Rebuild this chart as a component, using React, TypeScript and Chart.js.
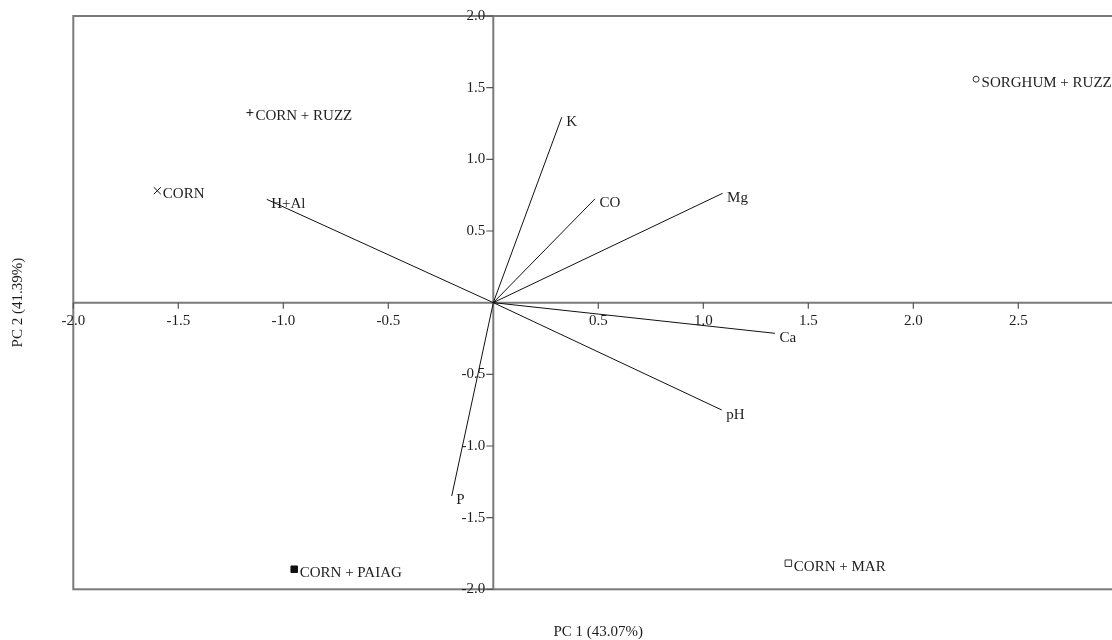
import React, { useEffect, useRef } from "react";
import { Chart, registerables } from "chart.js";

Chart.register(...registerables);

// Variable loadings (biplot vectors)
const vectorNames = ["K", "CO", "Mg", "H+Al", "Ca", "pH", "P"];
const vectorX = [0.326, 0.484, 1.092, -1.079, 1.341, 1.088, -0.198];
const vectorY = [1.294, 0.724, 0.763, 0.721, -0.214, -0.749, -1.349];

// Treatment scores
const treatmentNames = ["CORN", "CORN + RUZZ", "SORGHUM + RUZZ", "CORN + PAIAG", "CORN + MAR"];
const treatmentX = [-1.6, -1.159, 2.299, -0.948, 1.405];
const treatmentY = [0.781, 1.326, 1.559, -1.86, -1.818];
const treatmentMarkers = ["crossRot", "cross", "circle", "rect", "rect"];

// Axis ticks
const xTicks = [-2, -1.5, -1, -0.5, 0.5, 1, 1.5, 2, 2.5, 3];
const xTickLabels = ["-2.0", "-1.5", "-1.0", "-0.5", "0.5", "1.0", "1.5", "2.0", "2.5", "3.0"];
const yTicks = [2, 1.5, 1, 0.5, -0.5, -1, -1.5, -2];
const yTickLabels = ["2.0", "1.5", "1.0", "0.5", "-0.5", "-1.0", "-1.5", "-2.0"];

const xTitle = "PC 1 (43.07%)";
const yTitle = "PC 2 (41.39%)";

const FONT = '15px "Liberation Serif", "Times New Roman", serif';
const TEXT = "#1e1e1e";
const FRAME = "#7a7a7a";

const biplotPlugin = {
  id: "biplotDecor",
  beforeDatasetsDraw(chart: any) {
    const { ctx, chartArea, scales } = chart;
    const xs = scales.x;
    const ys = scales.y;
    const x0 = xs.getPixelForValue(0);
    const y0 = ys.getPixelForValue(0);
    ctx.save();
    // frame
    ctx.strokeStyle = FRAME;
    ctx.lineWidth = 2;
    ctx.strokeRect(chartArea.left, chartArea.top, chartArea.right - chartArea.left, chartArea.bottom - chartArea.top);
    // zero axes
    ctx.beginPath();
    ctx.moveTo(chartArea.left, y0);
    ctx.lineTo(chartArea.right, y0);
    ctx.moveTo(x0, chartArea.top);
    ctx.lineTo(x0, chartArea.bottom);
    ctx.stroke();
    // ticks
    ctx.lineWidth = 1.2;
    ctx.strokeStyle = "#555";
    ctx.beginPath();
    xTicks.forEach((v) => {
      const px = xs.getPixelForValue(v);
      ctx.moveTo(px, y0);
      ctx.lineTo(px, y0 + 6);
    });
    yTicks.forEach((v) => {
      const py = ys.getPixelForValue(v);
      ctx.moveTo(x0 - 7, py);
      ctx.lineTo(x0, py);
    });
    ctx.stroke();
    // tick labels
    ctx.font = FONT;
    ctx.fillStyle = TEXT;
    ctx.textAlign = "center";
    ctx.textBaseline = "middle";
    xTicks.forEach((v, i) => {
      ctx.fillText(xTickLabels[i], xs.getPixelForValue(v), y0 + 18);
    });
    ctx.textAlign = "right";
    yTicks.forEach((v, i) => {
      ctx.fillText(yTickLabels[i], x0 - 8, ys.getPixelForValue(v));
    });
    ctx.restore();
  },
  afterDatasetsDraw(chart: any) {
    const { ctx, chartArea, scales } = chart;
    const xs = scales.x;
    const ys = scales.y;
    ctx.save();
    ctx.font = FONT;
    ctx.fillStyle = TEXT;
    ctx.textAlign = "left";
    ctx.textBaseline = "alphabetic";
    vectorNames.forEach((name, i) => {
      const px = xs.getPixelForValue(vectorX[i]);
      const py = ys.getPixelForValue(vectorY[i]);
      ctx.fillText(name, px + 4.5, py + 8.5);
    });
    treatmentNames.forEach((name, i) => {
      const px = xs.getPixelForValue(treatmentX[i]);
      const py = ys.getPixelForValue(treatmentY[i]);
      ctx.fillText(name, px + 5.5, py + 7.5);
    });
    // axis titles
    ctx.textAlign = "center";
    ctx.textBaseline = "middle";
    ctx.fillText(xTitle, (chartArea.left + chartArea.right) / 2, 632);
    ctx.translate(18, (chartArea.top + chartArea.bottom) / 2);
    ctx.rotate(-Math.PI / 2);
    ctx.fillText(yTitle, 0, 0);
    ctx.restore();
  },
};

export default function App() {
  const canvasRef = useRef<HTMLCanvasElement | null>(null);

  useEffect(() => {
    const canvas = canvasRef.current;
    if (!canvas) return;

    const vectorDatasets = vectorNames.map((name, i) => ({
      type: "line" as const,
      label: name,
      data: [
        { x: 0, y: 0 },
        { x: vectorX[i], y: vectorY[i] },
      ],
      borderColor: "#111",
      borderWidth: 1,
      pointRadius: 0,
      fill: false,
      tension: 0,
    }));

    const treatmentDataset = {
      type: "scatter" as const,
      label: "Treatments",
      data: treatmentNames.map((_, i) => ({ x: treatmentX[i], y: treatmentY[i] })),
      pointStyle: treatmentMarkers,
      pointRadius: [5, 3.5, 3, 4.6, 4.6],
      pointBorderWidth: 1,
      pointBorderColor: ["#111", "#111", "#333", "#111", "#333"],
      pointBackgroundColor: ["#111", "#111", "#fff", "#111", "#fff"],
    };

    const chart = new Chart(canvas, {
      type: "scatter",
      data: { datasets: [...vectorDatasets, treatmentDataset] as any },
      options: {
        responsive: false,
        maintainAspectRatio: false,
        animation: false,
        layout: { padding: { left: 73.3, top: 16, right: 56.7, bottom: 50.7 } },
        scales: {
          x: { type: "linear", min: -2, max: 3, display: false },
          y: { type: "linear", min: -2, max: 2, display: false },
        },
        plugins: {
          legend: { display: false },
          tooltip: { enabled: false },
        },
      },
      plugins: [biplotPlugin],
    });

    return () => chart.destroy();
  }, []);

  return (
    <div
      style={{
        position: "fixed",
        left: 0,
        top: 0,
        width: 1112,
        height: 640,
        overflow: "hidden",
        background: "#fff",
      }}
    >
      <canvas ref={canvasRef} width={1180} height={640} style={{ display: "block" }} />
    </div>
  );
}
